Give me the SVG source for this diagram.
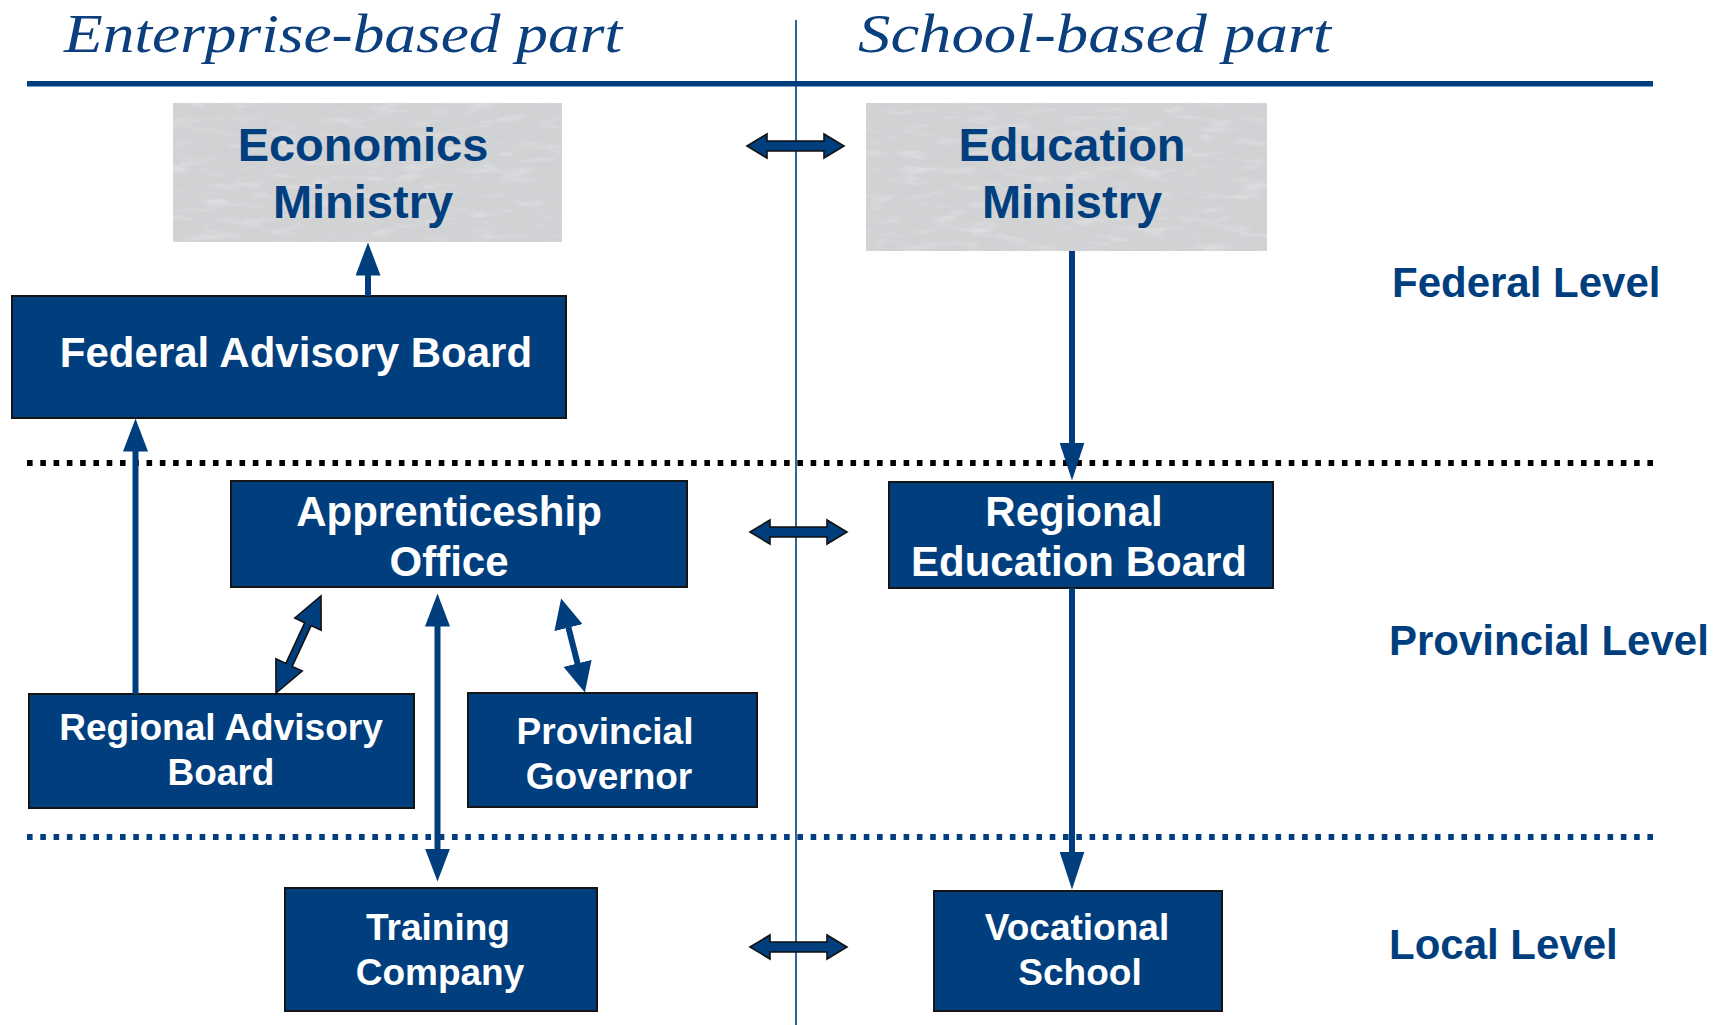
<svg xmlns="http://www.w3.org/2000/svg" xmlns:xlink="http://www.w3.org/1999/xlink" width="1725" height="1025" viewBox="0 0 1725 1025">
  <style>
    .box { fill: #003e7e; stroke: #151515; stroke-width: 2; }
    .grey { fill: #d0d2d4; }
    .wt { fill: #ffffff; font-family: "Liberation Sans", Arial, sans-serif; font-weight: bold; text-anchor: middle; }
    .bt { fill: #003e7e; font-family: "Liberation Sans", Arial, sans-serif; font-weight: bold; }
    .script { fill: #0b3f7e; font-family: "Liberation Serif", "DejaVu Serif", serif; font-style: italic; font-size: 54px; }
    .wire { stroke: #003e7e; stroke-width: 6; fill: none; }
    .block { fill: #003e7e; stroke: #111111; stroke-width: 1.6; stroke-linejoin: miter; }
  </style>
  <defs>
    <marker id="headA" markerUnits="userSpaceOnUse" markerWidth="33" markerHeight="25" viewBox="0 0 33 25" refX="0.5" refY="12.5" orient="auto-start-reverse">
      <path d="M0,0 L33,12.5 L0,25 Z" fill="#003e7e"/>
    </marker>
    <marker id="headB" markerUnits="userSpaceOnUse" markerWidth="38" markerHeight="25" viewBox="0 0 38 25" refX="0.5" refY="12.5" orient="auto-start-reverse">
      <path d="M0,0 L38,12.5 L0,25 Z" fill="#003e7e"/>
    </marker>
    <marker id="headC" markerUnits="userSpaceOnUse" markerWidth="30" markerHeight="29" viewBox="0 0 30 29" refX="0.5" refY="14.5" orient="auto-start-reverse">
      <path d="M0,0 L30,14.5 L0,29 Z" fill="#003e7e"/>
    </marker>
    <!-- horizontal two-headed block arrow, 97 long, centred on y=0 -->
    <path id="dbl" class="block" d="M0,0 L20,-12 L20,-5 L77,-5 L77,-12 L97,0 L77,12 L77,5 L20,5 L20,12 Z"/>
    <!-- faint mottled texture for the ministry panels -->
    <filter id="grain" x="0" y="0" width="1" height="1">
      <feTurbulence type="fractalNoise" baseFrequency="0.03 0.12" numOctaves="3" seed="7" result="n"/>
      <feColorMatrix in="n" type="matrix" values="0 0 0 0 1  0 0 0 0 1  0 0 0 0 1  0.7 0 0 0 -0.36" result="w"/>
      <feComposite in="w" in2="SourceGraphic" operator="in" result="wc"/>
      <feMerge><feMergeNode in="SourceGraphic"/><feMergeNode in="wc"/></feMerge>
    </filter>
  </defs>

  <rect width="1725" height="1025" fill="#ffffff"/>

  <!-- headings and frame lines -->
  <g id="headings">
    <text class="script" x="64" y="52" textLength="558" lengthAdjust="spacingAndGlyphs">Enterprise-based part</text>
    <text class="script" x="858" y="52" textLength="473" lengthAdjust="spacingAndGlyphs">School-based part</text>
    <rect x="27" y="81" width="1626" height="5.5" fill="#003e7e"/>
    <line x1="796" y1="20" x2="796" y2="1025" stroke="#003e7e" stroke-width="1.6"/>
    <line x1="27" y1="463" x2="1653" y2="463" stroke="#000000" stroke-width="6" stroke-dasharray="5.6 7.682"/>
    <line x1="27" y1="837" x2="1653" y2="837" stroke="#003e7e" stroke-width="6" stroke-dasharray="5.6 7.682"/>
  </g>

  <!-- level labels -->
  <g id="levels">
    <text class="bt" x="1392" y="297" font-size="42">Federal Level</text>
    <text class="bt" x="1389" y="655" font-size="42">Provincial Level</text>
    <text class="bt" x="1389" y="959" font-size="42">Local Level</text>
  </g>

  <g id="economics-ministry">
    <rect class="grey" x="173" y="103" width="389" height="139" filter="url(#grain)"/>
    <text class="bt" x="363" y="161" font-size="47" text-anchor="middle">Economics</text>
    <text class="bt" x="363" y="218" font-size="47" text-anchor="middle">Ministry</text>
  </g>

  <g id="education-ministry">
    <rect class="grey" x="866" y="103" width="401" height="148" filter="url(#grain)"/>
    <text class="bt" x="1072" y="161" font-size="47" text-anchor="middle">Education</text>
    <text class="bt" x="1072" y="218" font-size="47" text-anchor="middle">Ministry</text>
  </g>

  <g id="federal-advisory-board">
    <rect class="box" x="12" y="296" width="554" height="122"/>
    <text class="wt" x="296" y="367" font-size="42">Federal Advisory Board</text>
  </g>

  <g id="apprenticeship-office">
    <rect class="box" x="231" y="481" width="456" height="106"/>
    <text class="wt" x="449" y="526" font-size="42">Apprenticeship</text>
    <text class="wt" x="449" y="576" font-size="42">Office</text>
  </g>

  <g id="regional-education-board">
    <rect class="box" x="889" y="482" width="384" height="106"/>
    <text class="wt" x="1074" y="526" font-size="42">Regional</text>
    <text class="wt" x="1079" y="576" font-size="42">Education Board</text>
  </g>

  <g id="regional-advisory-board">
    <rect class="box" x="29" y="694" width="385" height="114"/>
    <text class="wt" x="221" y="740" font-size="37">Regional Advisory</text>
    <text class="wt" x="221" y="785" font-size="37">Board</text>
  </g>

  <g id="provincial-governor">
    <rect class="box" x="468" y="693" width="289" height="114"/>
    <text class="wt" x="605" y="744" font-size="37">Provincial</text>
    <text class="wt" x="609" y="789" font-size="37">Governor</text>
  </g>

  <g id="training-company">
    <rect class="box" x="285" y="888" width="312" height="123"/>
    <text class="wt" x="438" y="940" font-size="37">Training</text>
    <text class="wt" x="440" y="985" font-size="37">Company</text>
  </g>

  <g id="vocational-school">
    <rect class="box" x="934" y="891" width="288" height="120"/>
    <text class="wt" x="1077" y="940" font-size="37">Vocational</text>
    <text class="wt" x="1080" y="985" font-size="37">School</text>
  </g>

  <g id="connectors">
    <line class="wire" x1="368" y1="296" x2="368" y2="275" marker-end="url(#headA)"/>
    <line class="wire" x1="135.5" y1="694" x2="135.5" y2="451" marker-end="url(#headA)"/>
    <line class="wire" x1="1072" y1="251" x2="1072" y2="443" marker-end="url(#headB)"/>
    <line class="wire" x1="1072" y1="588" x2="1072" y2="852" marker-end="url(#headB)"/>
    <line class="wire" x1="437.5" y1="626" x2="437.5" y2="849" marker-start="url(#headA)" marker-end="url(#headA)"/>
    <line class="wire" stroke-width="7" x1="568.35" y1="627.1" x2="577.65" y2="663.9" marker-start="url(#headC)" marker-end="url(#headC)"/>
    <polygon class="block" points="321,596 321.1,630.2 311.1,625.6 292.2,666.4 302.2,671 276,693 275.9,658.8 285.9,663.4 304.8,622.7 294.8,618"/>
    <use xlink:href="#dbl" x="747" y="146"/>
    <use xlink:href="#dbl" x="750" y="532"/>
    <use xlink:href="#dbl" x="750" y="947"/>
  </g>
</svg>
